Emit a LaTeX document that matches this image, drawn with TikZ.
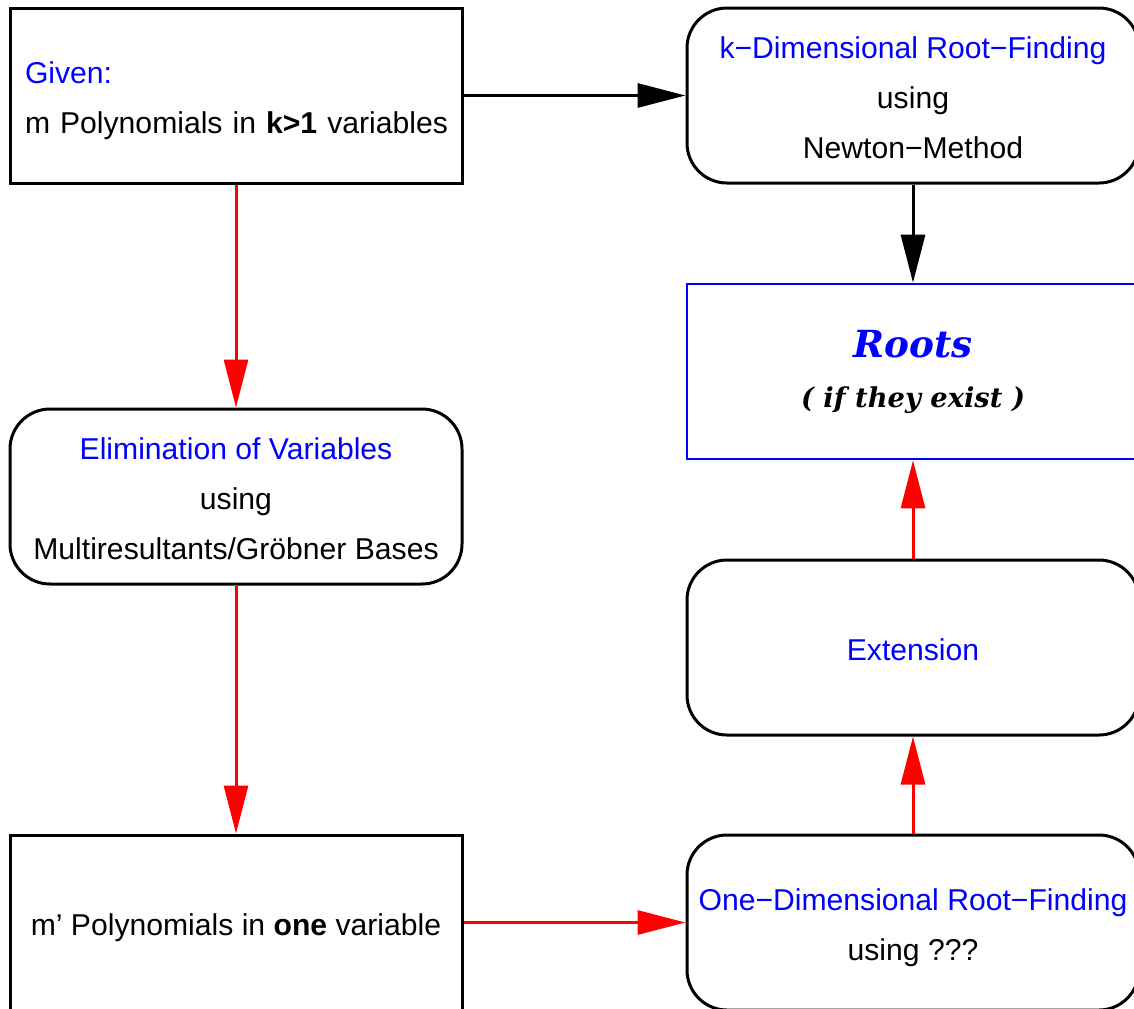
\documentclass[tikz,border=0pt]{standalone}
\usepackage{fontspec}
\setmainfont{Liberation Sans}
\newfontfamily\rootsfont{DejaVu Serif}
\usetikzlibrary{arrows.meta}
\definecolor{pureblue}{RGB}{0,0,255}
\definecolor{purered}{RGB}{255,0,0}
\newcommand\topst{\rule{0pt}{24pt}}
\newcommand\botst{\rule[-5pt]{0pt}{5pt}}
\hbadness=10000 \hfuzz=100pt
\begin{document}
\begin{tikzpicture}[x=0.75pt,y=-0.75pt,
  box/.style={draw, line width=2.25pt, minimum width=339pt, minimum height=131.25pt,
    inner sep=0pt, align=center, font=\fontsize{22.6}{37.5}\selectfont},
  rbox/.style={box, rounded corners=30pt},
  rootbox/.style={box, draw=pureblue, line width=2pt},
  flow/.style={line width=2.25pt, -{Triangle[length=36pt,width=18pt]}},
  blackflow/.style={flow, black},
  redflow/.style={flow, purered}
]
\useasboundingbox (0,0) rectangle (1134,1008);
\clip (0,0) rectangle (1134,1008);

\node[box, align=left, text width=316.5pt] (given) at (236,95.5)
  {\topst\textcolor{pureblue}{Given:}\\ \mbox{m Polynomials in \textbf{k>1} variables}\botst};
\node[rbox] (kdim) at (913,95.5)
  {\topst\textcolor{pureblue}{k−Dimensional Root−Finding}\\ using\\ Newton−Method\botst};
\node[rootbox] (roots) at (913,371.5)
  {{\rootsfont\bfseries\itshape\fontsize{28}{36}\selectfont\textcolor{pureblue}{Roots}}\\[0pt]
   {\rootsfont\bfseries\itshape\fontsize{20.5}{36}\selectfont ( if they exist )}};
\node[rbox] (elim) at (236,496.5)
  {\topst\textcolor{pureblue}{Elimination of Variables}\\ using\\ Multiresultants/Gröbner Bases\botst};
\node[rbox] (ext) at (913,647.5) {\topst\textcolor{pureblue}{Extension}\botst};
\node[box] (mone) at (236,922.5) {\topst m’ Polynomials in \textbf{one} variable\botst};
\node[rbox] (onedim) at (913,922.5)
  {\topst\textcolor{pureblue}{One−Dimensional Root−Finding}\\ using ???\botst};

\draw[blackflow] (given) -- (kdim);
\draw[blackflow] (kdim) -- (roots);
\draw[redflow] (given) -- (elim);
\draw[redflow] (elim) -- (mone);
\draw[redflow] (mone) -- (onedim);
\draw[redflow] (onedim) -- (ext);
\draw[redflow] (ext) -- (roots);
\end{tikzpicture}
\end{document}
